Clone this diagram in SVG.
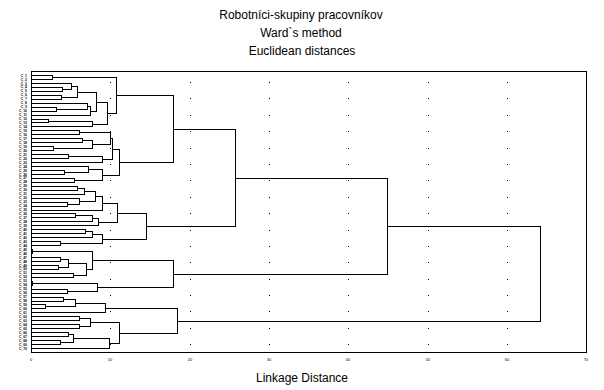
<svg xmlns="http://www.w3.org/2000/svg" width="604" height="390" viewBox="0 0 604 390">
<style>
.t{font-family:"Liberation Sans",Arial,sans-serif;font-size:12px;fill:#000;text-anchor:middle}
.lb{font-family:"Liberation Sans",Arial,sans-serif;font-size:3.4px;font-weight:bold;fill:#000;text-anchor:end}
.tk{font-family:"Liberation Sans",Arial,sans-serif;font-size:4px;fill:#000;text-anchor:middle}
.ln{fill:none;stroke:#000;stroke-width:1;shape-rendering:crispEdges}
.dot{fill:none;stroke:#000;stroke-width:1;stroke-dasharray:1 15.39;shape-rendering:crispEdges}
</style>
<rect width="604" height="390" fill="#fff"/>
<g id="title">
<text class="t" x="301" y="19">Robotníci-skupiny pracovníkov</text>
<text class="t" x="301" y="37">Ward`s method</text>
<text class="t" x="302" y="55">Euclidean distances</text>
</g>
<g id="grid" transform="translate(0.5,0)">
<path class="dot" d="M110 82V346M190 82V346M269 82V346M348 82V346M428 82V346M507 82V346"/>
</g>
<g id="frame" transform="translate(0.5,0.5)">
<rect class="ln" x="31" y="71" width="555" height="281"/>
</g>
<g id="axis">
<text class="tk" x="31" y="361">0</text>
<text class="tk" x="110" y="361">10</text>
<text class="tk" x="190" y="361">20</text>
<text class="tk" x="269" y="361">30</text>
<text class="tk" x="348" y="361">40</text>
<text class="tk" x="428" y="361">50</text>
<text class="tk" x="507" y="361">60</text>
<text class="tk" x="586" y="361">70</text>
<text class="t" x="302" y="382">Linkage Distance</text>
</g>
<g id="connectors" transform="translate(0.5,0.5)">
<path class="ln" d="
M31 75H52V79H31
M31 87H62V91H31
M31 83H71V89H62
M31 95H61V99H31
M71 86H77V97H61
M31 107H56V111H31
M31 103H87V109H56
M87 106H90V115H31
M77 92H96V111H90
M31 119H48V122H31
M48 121H92V126H31
M96 102H107V124H92
M52 77H116V113H107
M31 130H79V134H31
M31 138H82V142H31
M31 146H53V150H31
M82 140H92V148H53
M79 132H110V144H92
M31 154H68V158H31
M68 156H102V162H31
M110 138H112V159H102
M31 170H64V174H31
M31 166H88V172H64
M31 178H74V182H31
M88 169H102V180H74
M112 149H119V175H102
M116 95H173V162H119
M31 186H77V190H31
M77 188H84V194H31
M31 202H67V206H31
M31 198H79V204H67
M84 191H95V201H79
M95 196H102V210H31
M31 213H75V217H31
M75 215H92V221H31
M92 218H98V225H31
M102 203H117V222H98
M31 229H85V233H31
M85 231H92V237H31
M31 241H60V245H31
M92 234H102V243H60
M117 213H146V239H102
M173 129H235V226H146
M31 249H32V253H31
M31 257H60V261H31
M31 265H58V269H31
M60 259H68V267H58
M31 273H73V277H31
M68 263H86V275H73
M32 251H92V269H86
M31 281H32V285H31
M31 289H67V293H31
M32 283H97V291H67
M92 260H173V287H97
M235 178H387V274H173
M31 297H63V301H31
M31 304H45V308H31
M63 299H75V306H45
M75 303H105V312H31
M31 316H79V320H31
M31 324H79V328H31
M79 318H90V326H79
M31 332H68V336H31
M31 340H60V344H31
M68 334H73V342H60
M73 338H109V348H31
M90 322H119V343H109
M105 308H177V333H119
M387 226H540V321H177"/>
</g>
<g id="c1"><text class="lb" x="27" y="76.6">C_1</text></g>
<g id="c2"><text class="lb" x="27" y="80.56">C_2</text></g>
<g id="c3"><text class="lb" x="27" y="84.51">C_3</text></g>
<g id="c4"><text class="lb" x="27" y="88.47">C_4</text></g>
<g id="c5"><text class="lb" x="27" y="92.43">C_5</text></g>
<g id="c6"><text class="lb" x="27" y="96.39">C_6</text></g>
<g id="c7"><text class="lb" x="27" y="100.34">C_7</text></g>
<g id="c8"><text class="lb" x="27" y="104.3">C_8</text></g>
<g id="c9"><text class="lb" x="27" y="108.26">C_9</text></g>
<g id="c10"><text class="lb" x="27" y="112.21">C_10</text></g>
<g id="c11"><text class="lb" x="27" y="116.17">C_11</text></g>
<g id="c12"><text class="lb" x="27" y="120.13">C_12</text></g>
<g id="c13"><text class="lb" x="27" y="124.08">C_13</text></g>
<g id="c14"><text class="lb" x="27" y="128.04">C_14</text></g>
<g id="c15"><text class="lb" x="27" y="132">C_15</text></g>
<g id="c16"><text class="lb" x="27" y="135.96">C_16</text></g>
<g id="c17"><text class="lb" x="27" y="139.91">C_17</text></g>
<g id="c18"><text class="lb" x="27" y="143.87">C_18</text></g>
<g id="c19"><text class="lb" x="27" y="147.83">C_19</text></g>
<g id="c20"><text class="lb" x="27" y="151.78">C_20</text></g>
<g id="c21"><text class="lb" x="27" y="155.74">C_21</text></g>
<g id="c22"><text class="lb" x="27" y="159.7">C_22</text></g>
<g id="c23"><text class="lb" x="27" y="163.65">C_23</text></g>
<g id="c24"><text class="lb" x="27" y="167.61">C_24</text></g>
<g id="c25"><text class="lb" x="27" y="171.57">C_25</text></g>
<g id="c26"><text class="lb" x="27" y="175.53">C_26</text></g>
<g id="c27"><text class="lb" x="27" y="179.48">C_27</text></g>
<g id="c28"><text class="lb" x="27" y="183.44">C_28</text></g>
<g id="c29"><text class="lb" x="27" y="187.4">C_29</text></g>
<g id="c30"><text class="lb" x="27" y="191.35">C_30</text></g>
<g id="c31"><text class="lb" x="27" y="195.31">C_31</text></g>
<g id="c32"><text class="lb" x="27" y="199.27">C_32</text></g>
<g id="c33"><text class="lb" x="27" y="203.22">C_33</text></g>
<g id="c34"><text class="lb" x="27" y="207.18">C_34</text></g>
<g id="c35"><text class="lb" x="27" y="211.14">C_35</text></g>
<g id="c36"><text class="lb" x="27" y="215.1">C_36</text></g>
<g id="c37"><text class="lb" x="27" y="219.05">C_37</text></g>
<g id="c38"><text class="lb" x="27" y="223.01">C_38</text></g>
<g id="c39"><text class="lb" x="27" y="226.97">C_39</text></g>
<g id="c40"><text class="lb" x="27" y="230.92">C_40</text></g>
<g id="c41"><text class="lb" x="27" y="234.88">C_41</text></g>
<g id="c42"><text class="lb" x="27" y="238.84">C_42</text></g>
<g id="c43"><text class="lb" x="27" y="242.79">C_43</text></g>
<g id="c44"><text class="lb" x="27" y="246.75">C_44</text></g>
<g id="c45"><text class="lb" x="27" y="250.71">C_45</text></g>
<g id="c46"><text class="lb" x="27" y="254.67">C_46</text></g>
<g id="c47"><text class="lb" x="27" y="258.62">C_47</text></g>
<g id="c48"><text class="lb" x="27" y="262.58">C_48</text></g>
<g id="c49"><text class="lb" x="27" y="266.54">C_49</text></g>
<g id="c50"><text class="lb" x="27" y="270.49">C_50</text></g>
<g id="c51"><text class="lb" x="27" y="274.45">C_51</text></g>
<g id="c52"><text class="lb" x="27" y="278.41">C_52</text></g>
<g id="c53"><text class="lb" x="27" y="282.36">C_53</text></g>
<g id="c54"><text class="lb" x="27" y="286.32">C_54</text></g>
<g id="c55"><text class="lb" x="27" y="290.28">C_55</text></g>
<g id="c56"><text class="lb" x="27" y="294.24">C_56</text></g>
<g id="c57"><text class="lb" x="27" y="298.19">C_57</text></g>
<g id="c58"><text class="lb" x="27" y="302.15">C_58</text></g>
<g id="c59"><text class="lb" x="27" y="306.11">C_59</text></g>
<g id="c60"><text class="lb" x="27" y="310.06">C_60</text></g>
<g id="c61"><text class="lb" x="27" y="314.02">C_61</text></g>
<g id="c62"><text class="lb" x="27" y="317.98">C_62</text></g>
<g id="c63"><text class="lb" x="27" y="321.93">C_63</text></g>
<g id="c64"><text class="lb" x="27" y="325.89">C_64</text></g>
<g id="c65"><text class="lb" x="27" y="329.85">C_65</text></g>
<g id="c66"><text class="lb" x="27" y="333.81">C_66</text></g>
<g id="c67"><text class="lb" x="27" y="337.76">C_67</text></g>
<g id="c68"><text class="lb" x="27" y="341.72">C_68</text></g>
<g id="c69"><text class="lb" x="27" y="345.68">C_69</text></g>
<g id="c70"><text class="lb" x="27" y="349.63">C_70</text></g>
</svg>
